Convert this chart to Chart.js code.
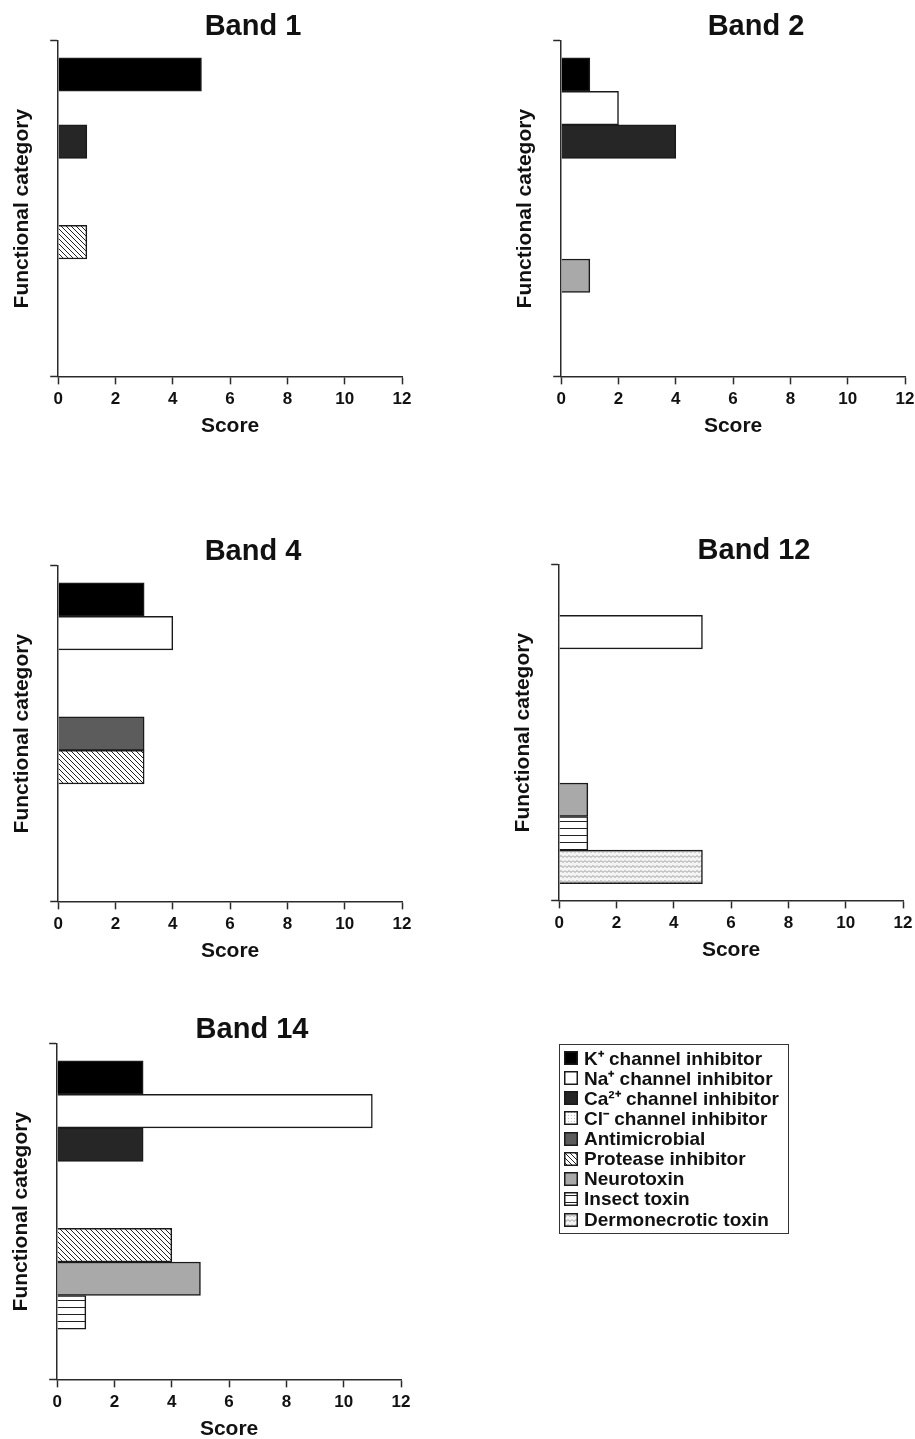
<!DOCTYPE html>
<html>
<head>
<meta charset="utf-8">
<script src="https://cdn.jsdelivr.net/npm/chart.js@4.4.1/dist/chart.umd.min.js"></script>
<style>
html,body{margin:0;padding:0;background:#fff;overflow:hidden;width:915px;height:1439px;}
#wrap{position:relative;width:915px;height:1439px;overflow:hidden;background:#fff;}
canvas.panel{position:absolute;}
#legend{position:absolute;left:559px;top:1044px;width:230px;height:190px;border:1.5px solid #333;box-sizing:border-box;
  font:bold 19px "Liberation Sans",Arial,sans-serif;color:#111;}
.item{position:absolute;left:4px;height:20px;display:flex;align-items:center;white-space:nowrap;}
.item canvas{width:14px;height:14px;margin-right:6px;display:block;}
</style>
</head>
<body>
<div id="wrap">
  <canvas class="panel" id="c1" width="500" height="450" style="left:0px;top:0px"></canvas>
  <canvas class="panel" id="c2" width="500" height="450" style="left:503px;top:0px"></canvas>
  <canvas class="panel" id="c3" width="500" height="450" style="left:0px;top:525px"></canvas>
  <canvas class="panel" id="c4" width="500" height="450" style="left:501px;top:524px"></canvas>
  <canvas class="panel" id="c5" width="500" height="450" style="left:-1px;top:1003px"></canvas>
  <div id="legend"></div>
</div>
<script>
// ---------------- data ----------------
const categories = [
  'K⁺ channel inhibitor',
  'Na⁺ channel inhibitor',
  'Ca²⁺ channel inhibitor',
  'Cl⁻ channel inhibitor',
  'Antimicrobial',
  'Protease inhibitor',
  'Neurotoxin',
  'Insect toxin',
  'Dermonecrotic toxin'
];
const bandTitles = ['Band 1', 'Band 2', 'Band 4', 'Band 12', 'Band 14'];
const band1  = [5, 0, 1, 0, 0, 1, 0, 0, 0];
const band2  = [1, 2, 4, 0, 0, 0, 1, 0, 0];
const band4  = [3, 4, 0, 0, 3, 3, 0, 0, 0];
const band12 = [0, 5, 0, 0, 0, 0, 1, 1, 5];
const band14 = [3, 11, 3, 0, 0, 4, 5, 1, 0];
const scoreMin = 0, scoreMax = 12, scoreStep = 2;
const xTitle = 'Score';
const yTitle = 'Functional category';

// ---------------- styles ----------------
const FONT = '"Liberation Sans", Arial, sans-serif';
const INK = '#111';
const AXIS = '#2a2a2a';
Chart.defaults.font.family = FONT;
Chart.defaults.font.weight = 'bold';
Chart.defaults.color = INK;

function tile(w, h, draw) {
  const c = document.createElement('canvas');
  c.width = w; c.height = h;
  draw(c.getContext('2d'), w, h);
  return c;
}
const tiles = {
  stipple: tile(3, 3, (x) => { x.fillStyle = '#fff'; x.fillRect(0,0,3,3); x.fillStyle = '#bdbdbd'; x.fillRect(1,1,1,1); }),
  diag: tile(5, 5, (x, s) => {
    x.fillStyle = '#fff'; x.fillRect(0,0,s,s);
    x.strokeStyle = '#222'; x.lineWidth = 1;
    x.beginPath();
    x.moveTo(0,0); x.lineTo(s,s);
    x.moveTo(-1,s-1); x.lineTo(1,s+1);
    x.moveTo(s-1,-1); x.lineTo(s+1,1);
    x.stroke();
  }),
  hlines: tile(4, 7, (x) => { x.fillStyle = '#fff'; x.fillRect(0,0,4,7); x.fillStyle = '#222'; x.fillRect(0,3,4,1); }),
  wavy: tile(8, 5, (x) => {
    x.fillStyle = '#f4f4f4'; x.fillRect(0,0,8,5);
    x.strokeStyle = '#999'; x.lineWidth = 1;
    x.beginPath(); x.moveTo(0,1.5); x.lineTo(2,3.5); x.lineTo(4,1.5); x.lineTo(6,3.5); x.lineTo(8,1.5); x.stroke();
  })
};
function makeFills(ctx) {
  return [
    '#000000',
    '#ffffff',
    '#262626',
    ctx.createPattern(tiles.stipple, 'repeat'),
    '#5c5c5c',
    ctx.createPattern(tiles.diag, 'repeat'),
    '#a9a9a9',
    ctx.createPattern(tiles.hlines, 'repeat'),
    ctx.createPattern(tiles.wavy, 'repeat')
  ];
}

function makePanel(id, title, values) {
  const canvas = document.getElementById(id);
  const ctx = canvas.getContext('2d');
  const fills = makeFills(ctx);
  return new Chart(ctx, {
    type: 'bar',
    data: {
      datasets: [{
        label: title,
        data: values.map((v, i) => ({ x: v, y: i + 1 })),
        backgroundColor: fills,
        borderColor: '#1a1a1a',
        borderWidth: 1.5,
        barPercentage: 1,
        categoryPercentage: 1
      }]
    },
    options: {
      indexAxis: 'y',
      responsive: false,
      animation: false,
      devicePixelRatio: 1,
      layout: { padding: { left: 6, right: 0, top: 0, bottom: 12 } },
      plugins: {
        legend: { display: false },
        tooltip: { enabled: false },
        title: {
          display: true, text: title, color: INK,
          font: { family: FONT, size: 29, weight: 'bold', lineHeight: 0.93 },
          padding: { top: 14, bottom: 0 }
        }
      },
      scales: {
        x: {
          type: 'linear', position: 'bottom', min: scoreMin, max: scoreMax,
          ticks: { stepSize: scoreStep, color: INK, font: { size: 17, weight: 'bold' }, padding: 5 },
          grid: { drawOnChartArea: false, drawTicks: true, tickLength: 8, tickColor: AXIS, tickWidth: 1.5 },
          border: { display: true, color: AXIS, width: 1.5 },
          title: { display: true, text: xTitle, color: INK, font: { size: 21, weight: 'bold', lineHeight: 0.64 }, padding: { top: 4.5, bottom: 5.3 } },
          afterFit: (s) => { s.paddingRight = 98; }
        },
        y: {
          type: 'linear', position: 'left', reverse: true, offset: false,
          min: 0, max: categories.length + 1,
          ticks: { display: false, stepSize: categories.length + 1 },
          grid: { offset: false, drawOnChartArea: false, drawTicks: true, tickLength: 8, tickColor: AXIS, tickWidth: 1.5 },
          border: { display: true, color: AXIS, width: 1.5 },
          title: { display: true, text: yTitle, color: INK, font: { size: 21, weight: 'bold' }, padding: { top: 4, bottom: 15 } }
        }
      }
    }
  });
}

makePanel('c1', bandTitles[0], band1);
makePanel('c2', bandTitles[1], band2);
makePanel('c3', bandTitles[2], band4);
makePanel('c4', bandTitles[3], band12);
makePanel('c5', bandTitles[4], band14);

// ---------------- legend ----------------
const legend = document.getElementById('legend');
categories.forEach((name, i) => {
  const item = document.createElement('div');
  item.className = 'item';
  item.style.top = (2.5 + i * 20.25) + 'px';
  const sw = document.createElement('canvas');
  sw.width = 14; sw.height = 14;
  const sctx = sw.getContext('2d');
  sctx.fillStyle = makeFills(sctx)[i];
  sctx.fillRect(0, 0, 14, 14);
  sctx.strokeStyle = '#1a1a1a'; sctx.lineWidth = 1.5;
  sctx.strokeRect(0.75, 0.75, 12.5, 12.5);
  const span = document.createElement('span');
  span.textContent = name;
  item.appendChild(sw);
  item.appendChild(span);
  legend.appendChild(item);
});
</script>
</body>
</html>
